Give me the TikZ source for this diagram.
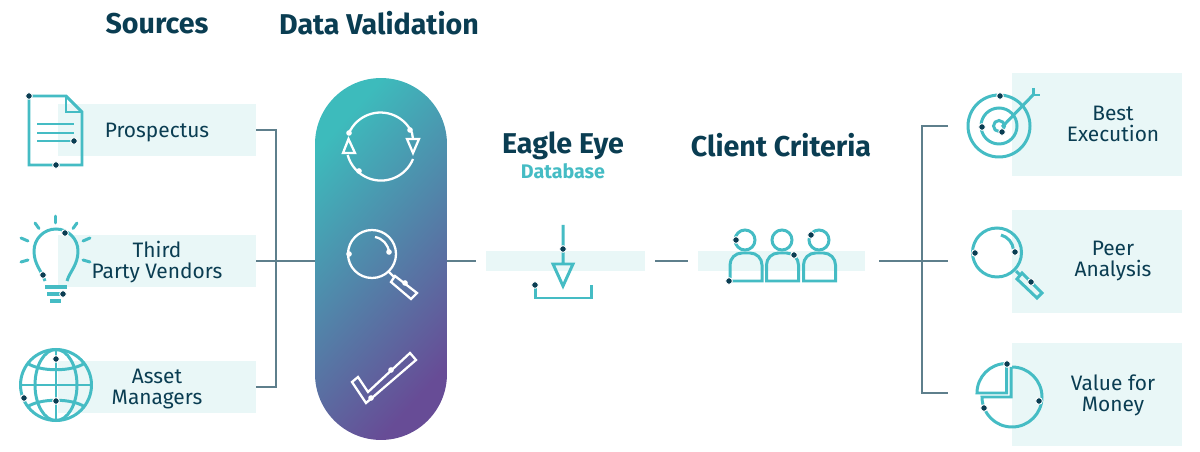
\documentclass[tikz,border=0pt]{standalone}
\usepackage{fontspec}
\setmainfont{Fira Sans}
\definecolor{ink}{HTML}{0A3D52}
\definecolor{teal}{HTML}{45BCC4}
\definecolor{pale}{HTML}{E9F7F7}
\definecolor{wire}{HTML}{5E7F8C}
\definecolor{pilltop}{HTML}{3DBBBC}
\definecolor{pillend}{HTML}{674C96}
\tikzset{
  x=0.02cm,y=-0.02cm,
  band/.style={fill=pale,draw=none,inner sep=0pt},
  lab/.style={inner sep=0pt,text=ink,align=center,font=\fontsize{11.9}{11.9}\selectfont},
  title/.style={inner sep=0pt,text=ink,font=\fontsize{16.3}{18}\bfseries\selectfont},
  conn/.style={draw=wire,line width=1.1pt},
  icon/.style={draw=teal,line width=1.7pt,line join=miter},
  wicon/.style={draw=white,line width=1.3pt},
  dot/.style={circle,fill=ink,draw=white,line width=0.5pt,inner sep=0pt,minimum size=3.8pt},
  wdot/.style={circle,fill=white,inner sep=0pt,minimum size=3.2pt}
}
\begin{document}
\begin{tikzpicture}
\useasboundingbox (0,0) rectangle (1200,452);
% titles
\node[title] (tsrc) at (157,24) {Sources};
\node[title] (tval) at (379,23.5) {Data Validation};
\node[title] (teag) at (563,146) {Eagle Eye};
\node[inner sep=0pt,text=teal,font=\fontsize{11.2}{12}\bfseries\selectfont] (tdb) at (563,171) {Database};
\node[title] (tcli) at (781,145) {Client Criteria};
% bands
\node[band,minimum width=3.96cm,minimum height=1.04cm] (prosp) at (157,130) {};
\node[band,minimum width=3.96cm,minimum height=1.06cm] (third) at (157,261) {};
\node[band,minimum width=3.96cm,minimum height=1.04cm] (asset) at (157,387) {};
\node[band,minimum width=3.18cm,minimum height=0.42cm] (eagle) at (565.5,261) {};
\node[band,minimum width=3.34cm,minimum height=0.42cm] (client) at (781.5,261) {};
\node[band,minimum width=3.4cm,minimum height=2.06cm] (best) at (1097,124.5) {};
\node[band,minimum width=3.4cm,minimum height=2.06cm] (peer) at (1097,261.5) {};
\node[band,minimum width=3.4cm,minimum height=2.06cm] (value) at (1097,394.5) {};
\node[lab] (lprosp) at (157,133) {Prospectus};
\node[lab] (lthird) at (157,262) {Third\\Party Vendors};
\node[lab] (lasset) at (157,389) {Asset\\Managers};
\node[lab] (lbest) at (1113,124) {Best\\Execution};
\node[lab] (lpeer) at (1113,261) {Peer\\Analysis};
\node[lab] (lvalue) at (1113,395) {Value for\\Money};
% pill
\node[minimum width=2.64cm,minimum height=7.24cm,inner sep=0pt,rounded corners=1.32cm,
  top color=pilltop,bottom color=pillend,shading angle=48] (pill) at (381,259) {};
% connectors
\coordinate (hub) at (948,261);
\coordinate (bt) at (948,126);
\coordinate (bb) at (948,393);
\coordinate (pillW) at (pill.west |- third.east);
\coordinate (pillE) at (pill.east |- third.east);
\draw[conn] (prosp.east) -- ++(20,0) |- (asset.east);
\draw[conn] (third.east) -- (pillW);
\draw[conn,shorten >=0.2cm] (pillE) -- (eagle.west);
\draw[conn,shorten >=0.2cm,shorten <=0.2cm] (eagle.east) -- (client.west);
\draw[conn,shorten <=0.28cm] (client.east) -- (hub);
\draw[conn] (bt) -- ++(-26,0) |- (bb);
% document
\draw[icon] (29,96) -- (66,96) -- (82,112) -- (82,165) -- (29,165) -- cycle;
\draw[icon] (66,96) -- (66,112) -- (82,112);
\draw[icon] (37,124) -- (74,124) (37,133) -- (74,133) (37,141) -- (74,141);
\node[dot] at (29,96) {}; \node[dot] at (74,141) {}; \node[dot] at (56,165) {};
% bulb
\draw[icon] (45,281) .. controls (42,271) and (34,265) .. (34,251) arc[start angle=180,end angle=360,radius=22] .. controls (78,265) and (70,271) .. (67,281);
\draw[icon,line cap=round] (55.5,216) -- (55.5,223) (35,223) -- (39,228.5) (77,223) -- (73,228.5) (21,238) -- (28,241) (90,238) -- (83,241) (21,262) -- (28,260) (90,262) -- (83,260);
\draw[icon,line width=2pt] (45,287) -- (67,287) (47,294) -- (65,294) (50,301) -- (61,301);
\node[dot] at (65,233) {}; \node[dot] at (43,275) {}; \node[dot] at (63,294) {};
% globe
\draw[icon] (56,385) circle[radius=35.5];
\draw[icon] (56,385) ellipse[x radius=21,y radius=35.5];
\draw[icon] (56,349.5) -- (56,420.5) (20.5,385) -- (91.5,385);
\draw[icon] (27,363) .. controls (40,372) and (72,372) .. (85,363);
\draw[icon] (27,407) .. controls (40,398) and (72,398) .. (85,407);
\node[dot] at (56,359) {}; \node[dot] at (24,398) {}; \node[dot] at (56,401) {};
% cycle
\draw[wicon] (349,133) arc[start angle=-156,end angle=-24,radius=34.5] -- (413,139);
\draw[wicon] (413,159) arc[start angle=22,end angle=165,radius=34.5];
\draw[wicon] (407,139) -- (419,139) -- (413,153) -- cycle;
\draw[wicon] (343,153) -- (355,153) -- (348.5,139) -- cycle;
\node[wdot] at (349,133) {}; \node[wdot] at (410,130) {}; \node[wdot] at (359,171) {};
% magnifier white
\draw[wicon] (372,254) circle[radius=24];
\draw[wicon] (375,237) arc[start angle=-80,end angle=-5,radius=17];
\draw[wicon] (388,271) -- (394,277);
\draw[wicon] (395,276) -- (417,293) -- (411,299) -- (391,282) -- cycle;
\node[wdot] at (349,254) {}; \node[wdot] at (389,252) {}; \node[wdot] at (405,283) {};
% check
\draw[wicon] (352,382) -- (358,377) -- (368,392) -- (410,353) -- (416,360) -- (366,403) -- cycle;
\node[wdot] at (391,370) {}; \node[wdot] at (371,398) {};
% database tray
\draw[icon] (563,225) -- (563,264) (553,264) -- (573,264) -- (563,286) -- cycle;
\draw[icon] (535,285) -- (535,298) -- (591,298) -- (591,285);
\node[dot] at (563,249) {}; \node[dot] at (535,285) {};
% people
\foreach \hx/\bx in {745/730,782/766.5,819/803.5}{
  \draw[icon] (\hx,240) circle[radius=10];
  \draw[icon] (\bx,281) -- (\bx,265) arc[start angle=180,end angle=270,radius=12] -- ++(8,0) arc[start angle=270,end angle=360,radius=12] -- ++(0,16) -- cycle;
}
\node[dot] at (736,240) {}; \node[dot] at (794,255) {}; \node[dot] at (811,235) {}; \node[dot] at (729,281) {};
% target
\draw[icon] (999,126) circle[radius=31];
\draw[icon] (999,126) circle[radius=18];
\draw[icon] (999,126) circle[radius=5.5];
\draw[icon] (1002,127) -- (1033,95);
\draw[icon] (1033,88) -- (1033,95) -- (1040,95);
\node[dot] at (1000,96) {}; \node[dot] at (982,127) {}; \node[dot] at (1002,132) {};
% magnifier teal
\draw[icon] (997,252.5) circle[radius=24.5];
\draw[icon] (1001,235) arc[start angle=-75,end angle=-5,radius=17];
\draw[icon] (1016,271) -- (1021,276);
\draw[icon] (1022,273) -- (1042,293) -- (1037,298) -- (1017,279) -- cycle;
\node[dot] at (975,253) {}; \node[dot] at (1015,252) {}; \node[dot] at (1031,282) {};
% pie
\draw[icon] (1006.5,364) -- (1006.5,393) -- (977,393) arc[start angle=180,end angle=270,radius=29.5];
\draw[icon] (1011,367) -- (1011,397) -- (982,397) arc[start angle=180,end angle=-90,radius=30];
\node[dot] at (1007,364) {}; \node[dot] at (1039,401) {}; \node[dot] at (984,408) {};
\end{tikzpicture}
\end{document}
